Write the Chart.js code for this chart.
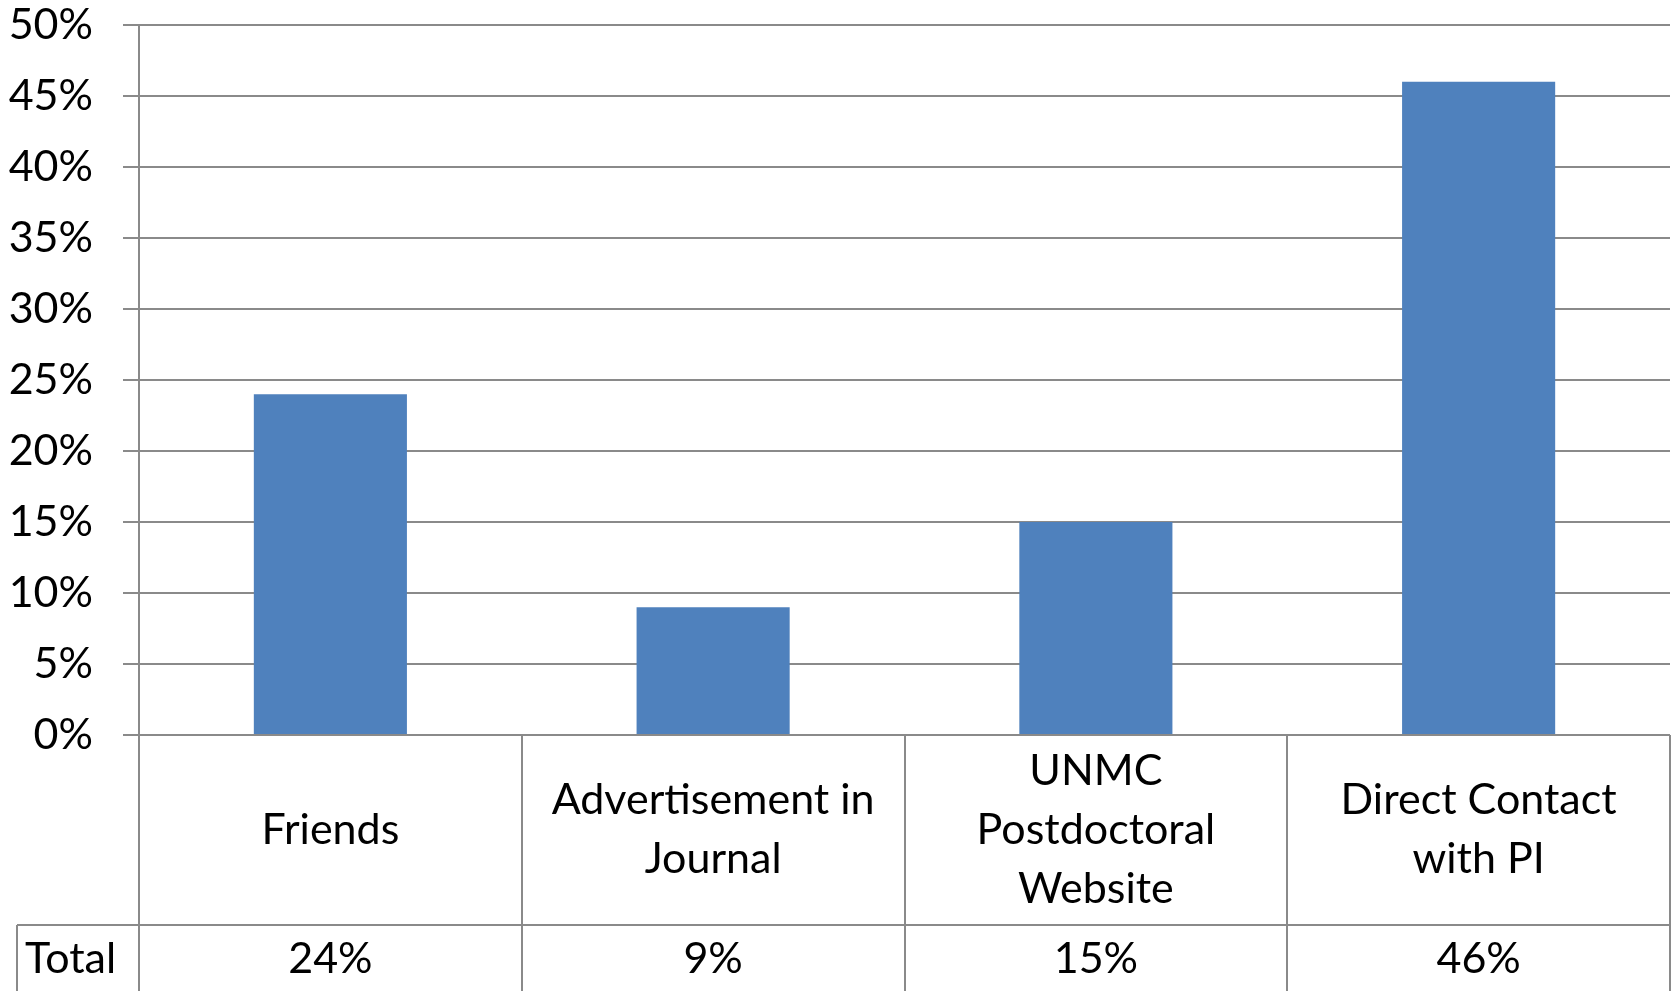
<!DOCTYPE html>
<html>
<head>
<meta charset="utf-8">
<title>Postdoc recruitment sources</title>
<script src="https://cdn.jsdelivr.net/npm/chart.js@4.4.1/dist/chart.umd.min.js"></script>
<style>
  html, body { margin: 0; padding: 0; background: #fff; }
  #wrap { width: 1675px; height: 991px; position: relative; }
</style>
</head>
<body>
<div id="wrap"><canvas id="chart"></canvas></div>
<script>
// categories (line-broken as in the data table)
const categories = [
    ['Friends'],
    ['Advertisement in', 'Journal'],
    ['UNMC', 'Postdoctoral', 'Website'],
    ['Direct Contact', 'with PI']
];
const totals = [24, 9, 15, 46];
const rowLabel = 'Total';
const yTicks = [0, 5, 10, 15, 20, 25, 30, 35, 40, 45, 50];

const FONT = 'Lato, "Open Sans", sans-serif';
const GRID = '#8a8a8a';

// data table under the plot, built from the x scale
const dataTable = {
    id: 'dataTable',
    afterDraw: function(chart) {
        const ctx = chart.ctx;
        const area = chart.chartArea;
        const x = chart.scales.x;
        const n = categories.length;
        const colW = (area.right - area.left) / n;
        const top = area.bottom;
        const rowY = top + 190;
        const bottom = chart.height + 2;

        ctx.save();
        ctx.strokeStyle = GRID;
        ctx.lineWidth = 2;
        ctx.beginPath();
        // column lines
        for (let i = 0; i <= n; i++) {
            const lx = Math.round(area.left + i * colW);
            ctx.moveTo(lx, top);
            ctx.lineTo(lx, bottom);
        }
        // row divider + Total cell
        ctx.moveTo(17, rowY);
        ctx.lineTo(area.right, rowY);
        ctx.moveTo(17, rowY);
        ctx.lineTo(17, bottom);
        ctx.stroke();

        ctx.fillStyle = '#000';
        ctx.font = '43px ' + FONT;
        ctx.textBaseline = 'middle';
        ctx.textAlign = 'center';
        const lh = 59;
        const midY = (top + rowY) / 2;
        categories.forEach(function(lines, i) {
            const cx = x.getPixelForValue(i);
            const y0 = midY - (lines.length - 1) * lh / 2;
            lines.forEach(function(t, j) {
                ctx.fillText(t, cx, y0 + j * lh);
            });
            ctx.fillText(totals[i] + '%', cx, rowY + 34);
        });
        ctx.textAlign = 'left';
        ctx.fillText(rowLabel, 25, rowY + 34);
        ctx.restore();
    }
};

new Chart(document.getElementById('chart'), {
    type: 'bar',
    data: {
        labels: categories.map(function(c) { return c.join(' '); }),
        datasets: [{
            label: rowLabel,
            data: totals,
            backgroundColor: '#4f81bd',
            borderWidth: 0,
            categoryPercentage: 1.0,
            barPercentage: 0.4
        }]
    },
    options: {
        responsive: true,
        maintainAspectRatio: false,
        animation: false,
        layout: { padding: { top: 25, right: 5, bottom: 256, left: 0 } },
        plugins: {
            legend: { display: false },
            tooltip: { enabled: false }
        },
        scales: {
            x: { display: false },
            y: {
                min: yTicks[0],
                max: yTicks[yTicks.length - 1],
                afterBuildTicks: function(scale) {
                    scale.ticks = yTicks.map(function(v) { return { value: v }; });
                },
                afterFit: function(scale) {
                    scale.width = 139;
                    scale.paddingTop = 0;
                    scale.paddingBottom = 0;
                },
                ticks: {
                    padding: 30,
                    color: '#000',
                    font: { family: FONT, size: 43 },
                    callback: function(v) { return v + '%'; }
                },
                grid: {
                    color: GRID,
                    lineWidth: 2,
                    tickLength: 16,
                    drawTicks: true
                },
                border: { display: true, color: GRID, width: 2 }
            }
        }
    },
    plugins: [dataTable]
});
</script>
</body>
</html>
